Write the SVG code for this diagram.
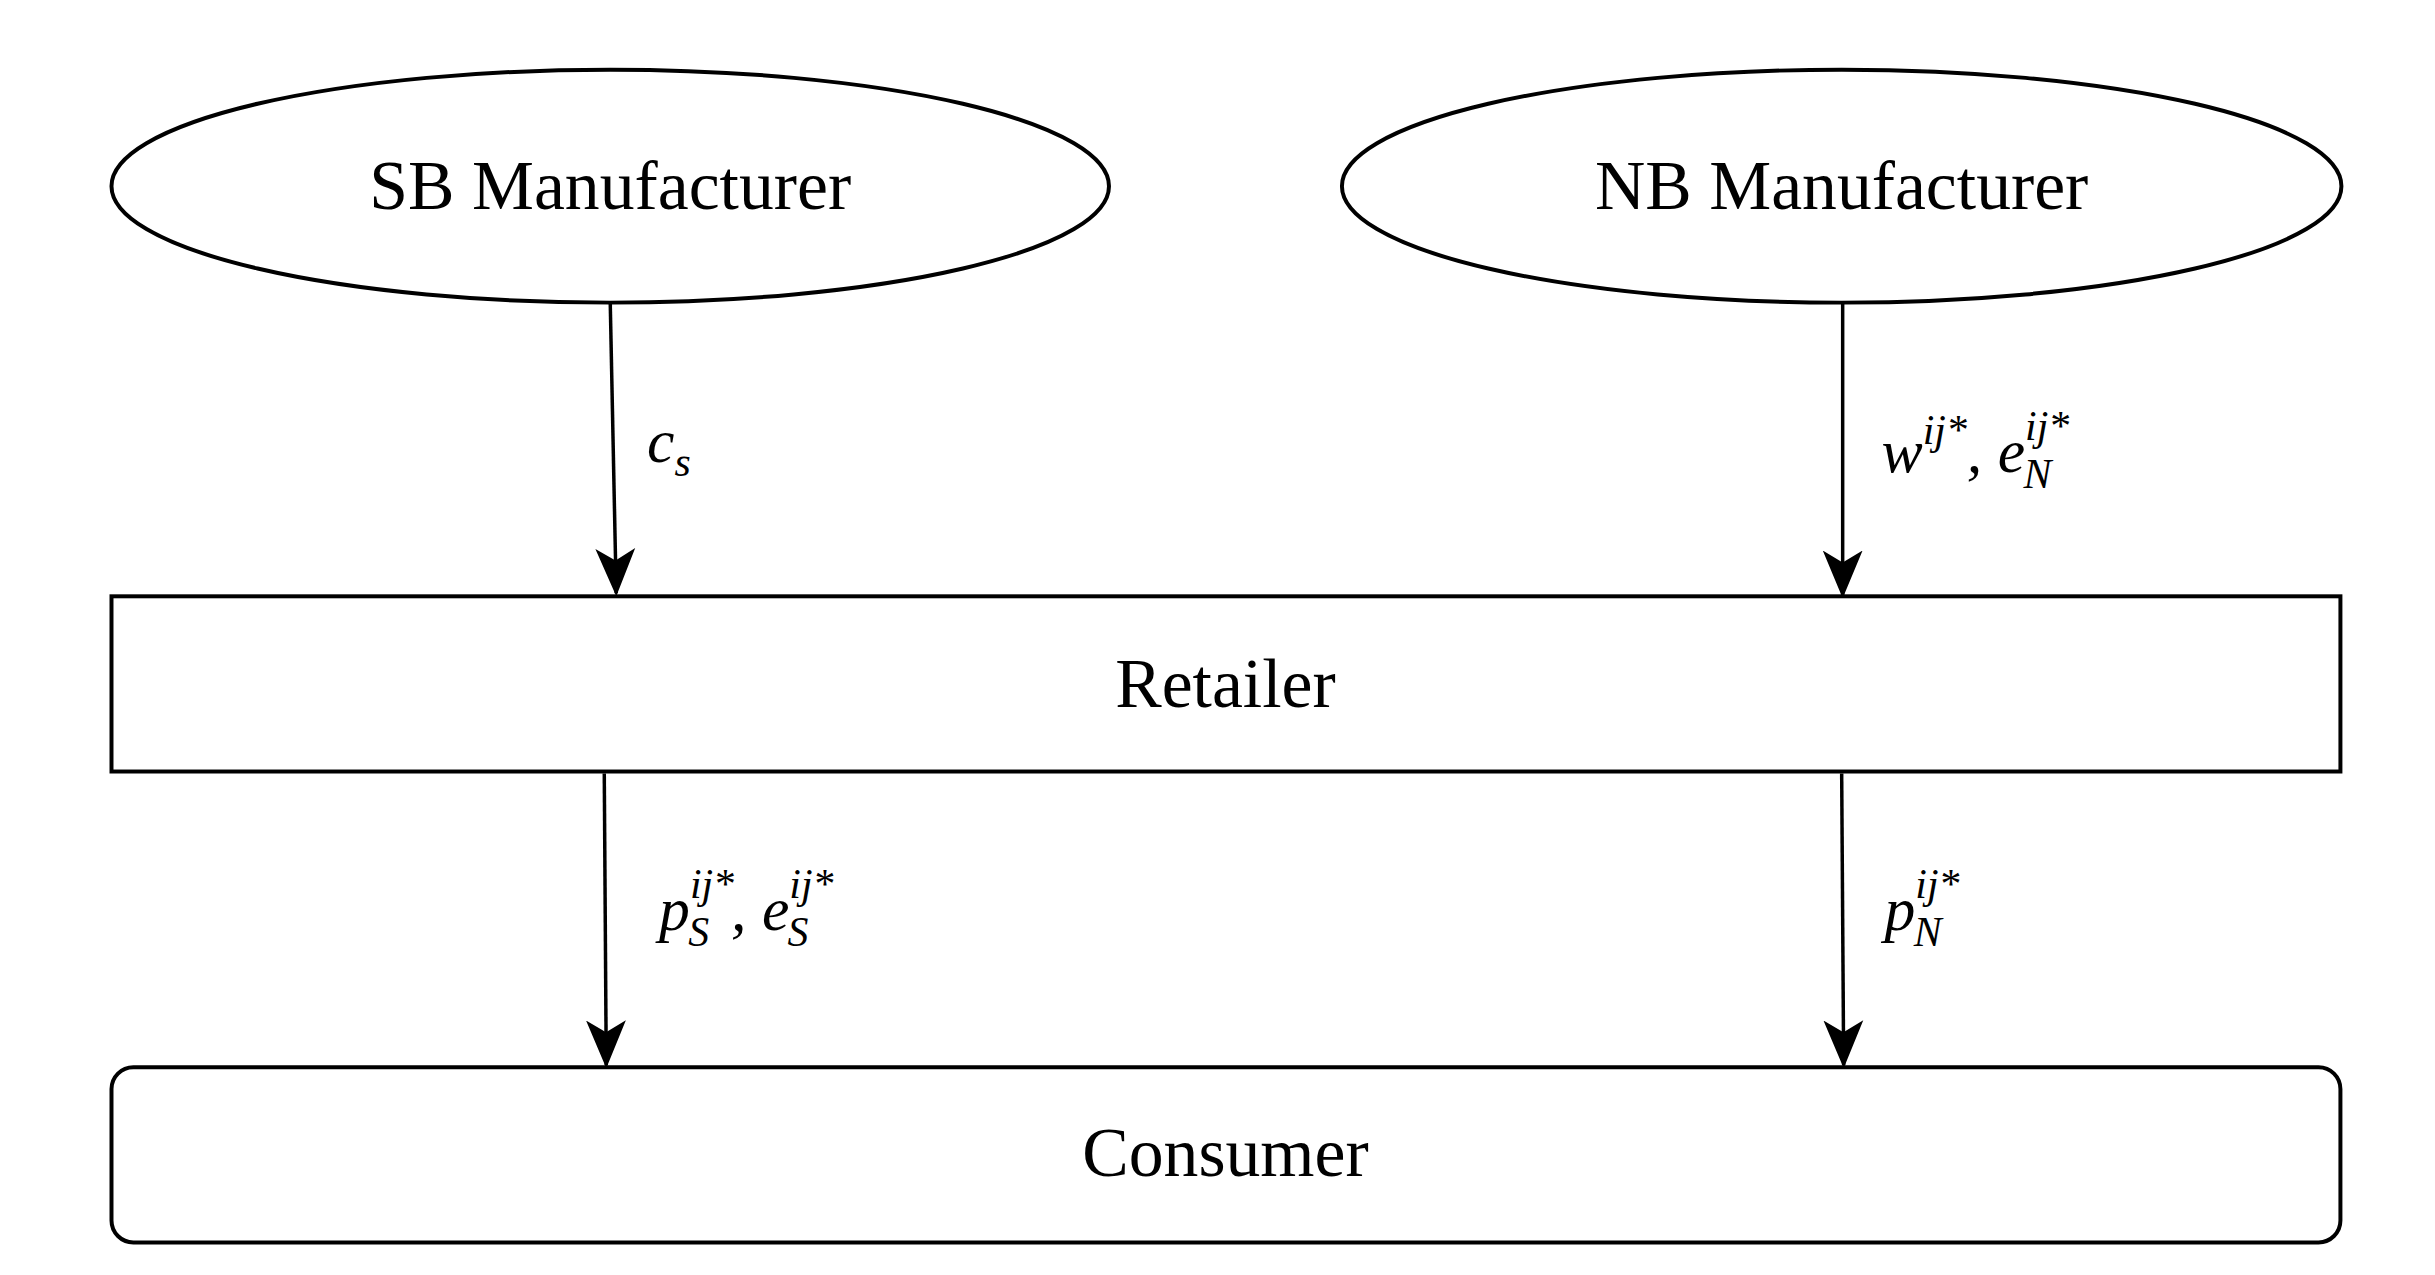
<svg xmlns="http://www.w3.org/2000/svg" width="2435" height="1275" viewBox="0 0 2435 1275">
<style>
.n{fill:#fff;stroke:#000;stroke-width:4}
.t{font-family:"Liberation Serif",serif;font-size:70px;text-anchor:middle;fill:#000}
.m{font-family:"Liberation Serif",serif;font-style:italic;font-size:62px;fill:#000}
.s{font-size:42px}
.c{stroke:#000;stroke-width:3.5;fill:none}
</style>
<defs>
<marker id="ah" markerUnits="userSpaceOnUse" markerWidth="50" markerHeight="60" refX="45" refY="20" orient="auto" viewBox="0 0 50 40">
<path d="M0,0 L48,20 L0,40 L12,20 Z" fill="#000"/>
</marker>
</defs>
<rect width="2435" height="1275" fill="#fff"/>
<g transform="scale(0.9955)">
<g id="sb"><ellipse class="n" cx="613" cy="187" rx="501" ry="117"/><text class="t" x="613" y="210">SB Manufacturer</text></g>
<g id="nb"><ellipse class="n" cx="1850" cy="187" rx="502" ry="117"/><text class="t" x="1850" y="210">NB Manufacturer</text></g>
<g id="retailer"><rect class="n" x="112" y="599" width="2239" height="176"/><text class="t" x="1231" y="710">Retailer</text></g>
<g id="consumer"><rect class="n" x="112" y="1072" width="2239" height="176" rx="22"/><text class="t" x="1231" y="1181">Consumer</text></g>
<g id="connectors">
<path class="c" d="M613,304 L619,596" marker-end="url(#ah)"/>
<path class="c" d="M1851,304 L1851,598" marker-end="url(#ah)"/>
<path class="c" d="M607,777 L609,1070" marker-end="url(#ah)"/>
<path class="c" d="M1850,777 L1852,1070" marker-end="url(#ah)"/>
<text class="m" x="650" y="464">c<tspan class="s" dy="14">s</tspan></text>
<text class="m" x="1890" y="474">w<tspan class="s" dy="-28">ij*</tspan><tspan dy="28">, e</tspan><tspan class="s" dy="-32">ij*</tspan><tspan class="s" dx="-46" dy="48">N</tspan></text>
<text class="m" x="662" y="934">p<tspan class="s" dy="-32">ij*</tspan><tspan class="s" dx="-46" dy="48">S</tspan><tspan dx="22" dy="-16">, e</tspan><tspan class="s" dy="-32">ij*</tspan><tspan class="s" dx="-46" dy="48">S</tspan></text>
<text class="m" x="1893" y="934">p<tspan class="s" dy="-32">ij*</tspan><tspan class="s" dx="-46" dy="48">N</tspan></text>
</g>
</g>
</svg>
